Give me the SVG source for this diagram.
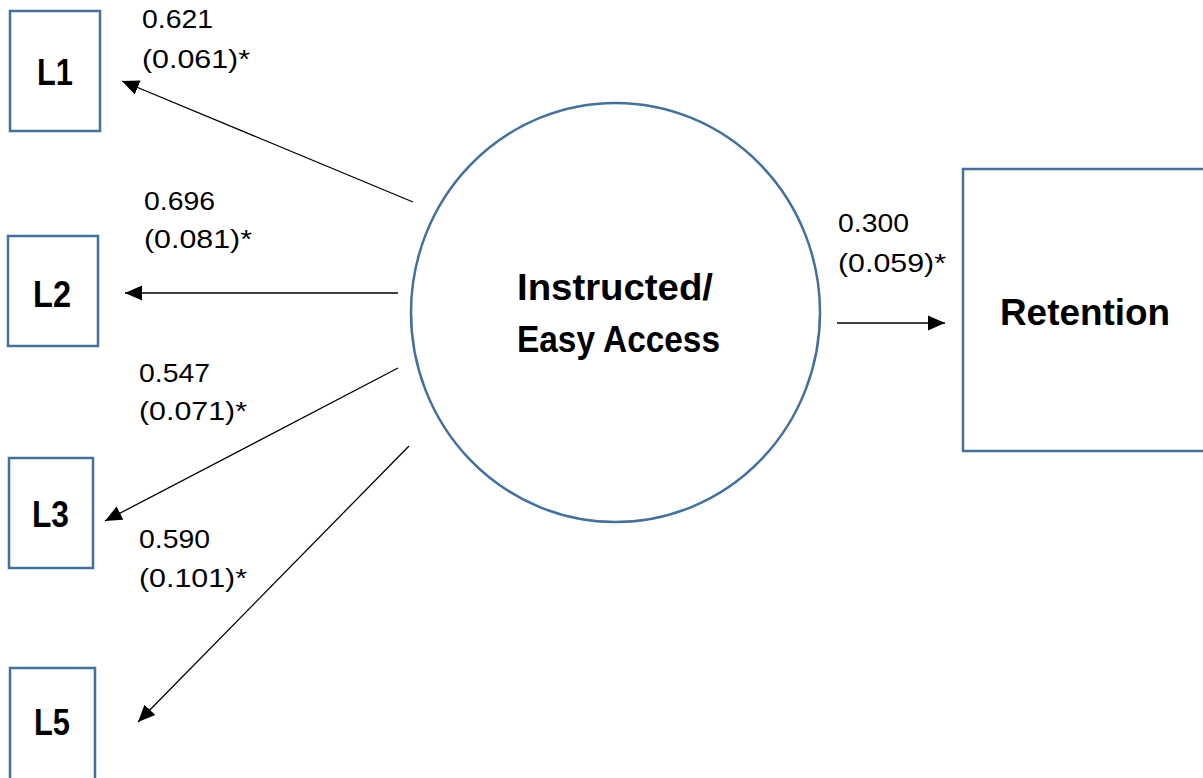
<svg xmlns="http://www.w3.org/2000/svg" width="1203" height="778" viewBox="0 0 1203 778">
  <style>
    .box { fill: #ffffff; stroke: #41719C; stroke-width: 2.5; }
    .node-label { font-family: "Liberation Sans", Arial, sans-serif; font-weight: bold; font-size: 36px; fill: #000000; }
    .coef { font-family: "Liberation Sans", Arial, sans-serif; font-size: 26px; fill: #000000; }
    .conn { stroke: #000000; stroke-width: 1.3; fill: none; marker-end: url(#arrow); }
  </style>
  <defs>
    <marker id="arrow" markerUnits="userSpaceOnUse" markerWidth="18" markerHeight="16" refX="17" refY="8" orient="auto">
      <path d="M0,0.5 L17,8 L0,15.5 Z" fill="#000000"/>
    </marker>
  </defs>
  <rect width="1203" height="778" fill="#ffffff"/>

  <g id="connectors">
    <line class="conn" x1="413" y1="202" x2="122" y2="81"/>
    <line class="conn" x1="398" y1="293" x2="125" y2="293"/>
    <line class="conn" x1="398" y1="368" x2="105" y2="521"/>
    <line class="conn" x1="409" y1="446" x2="138" y2="722"/>
    <line class="conn" x1="837" y1="323" x2="945" y2="323"/>
  </g>

  <g id="labels">
    <text class="coef" x="142" y="28" textLength="71" lengthAdjust="spacingAndGlyphs">0.621</text>
    <text class="coef" x="142" y="68" textLength="108" lengthAdjust="spacingAndGlyphs">(0.061)*</text>
    <text class="coef" x="144" y="210" textLength="71" lengthAdjust="spacingAndGlyphs">0.696</text>
    <text class="coef" x="144" y="248" textLength="108" lengthAdjust="spacingAndGlyphs">(0.081)*</text>
    <text class="coef" x="139" y="382" textLength="71" lengthAdjust="spacingAndGlyphs">0.547</text>
    <text class="coef" x="139" y="420" textLength="108" lengthAdjust="spacingAndGlyphs">(0.071)*</text>
    <text class="coef" x="139" y="548" textLength="71" lengthAdjust="spacingAndGlyphs">0.590</text>
    <text class="coef" x="139" y="587" textLength="108" lengthAdjust="spacingAndGlyphs">(0.101)*</text>
    <text class="coef" x="838" y="232" textLength="71" lengthAdjust="spacingAndGlyphs">0.300</text>
    <text class="coef" x="838" y="272" textLength="108" lengthAdjust="spacingAndGlyphs">(0.059)*</text>
  </g>

  <g id="node-L1">
    <rect class="box" x="10" y="11" width="90" height="120"/>
    <text class="node-label" x="37" y="85" textLength="36" lengthAdjust="spacingAndGlyphs">L1</text>
  </g>
  <g id="node-L2">
    <rect class="box" x="8" y="236" width="90" height="110"/>
    <text class="node-label" x="33" y="307" textLength="38" lengthAdjust="spacingAndGlyphs">L2</text>
  </g>
  <g id="node-L3">
    <rect class="box" x="9" y="458" width="84" height="110"/>
    <text class="node-label" x="32" y="527" textLength="37" lengthAdjust="spacingAndGlyphs">L3</text>
  </g>
  <g id="node-L5">
    <rect class="box" x="10" y="668" width="85" height="115"/>
    <text class="node-label" x="34" y="735" textLength="36" lengthAdjust="spacingAndGlyphs">L5</text>
  </g>

  <g id="node-instructed">
    <ellipse class="box" cx="615.5" cy="312.5" rx="204.5" ry="209.5"/>
    <text class="node-label" x="517" y="300" textLength="196" lengthAdjust="spacingAndGlyphs">Instructed/</text>
    <text class="node-label" x="517" y="352" textLength="203" lengthAdjust="spacingAndGlyphs">Easy Access</text>
  </g>

  <g id="node-retention">
    <rect class="box" x="963" y="169" width="260" height="282"/>
    <text class="node-label" x="1000" y="325" textLength="170" lengthAdjust="spacingAndGlyphs">Retention</text>
  </g>
</svg>
